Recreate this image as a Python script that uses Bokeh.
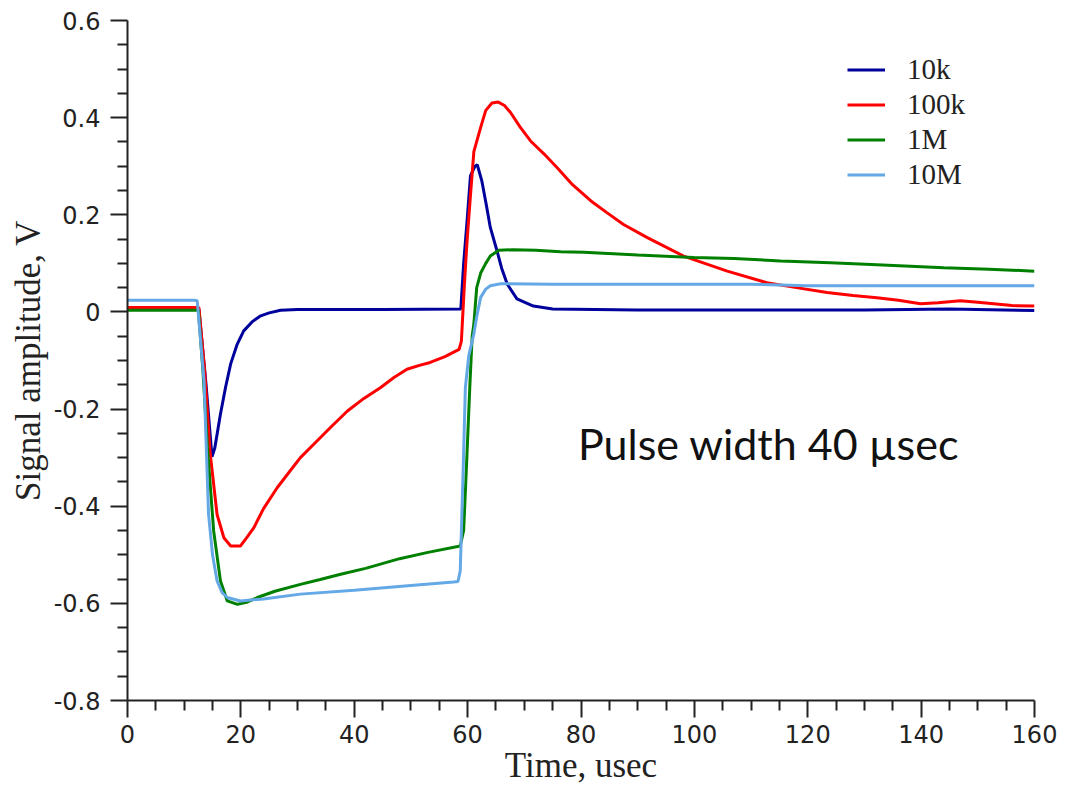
from bokeh.plotting import figure
from bokeh.models import Range1d, FixedTicker, Label
from bokeh.embed import file_html
from bokeh.resources import INLINE

# ---------------- data ----------------
series_names = ["10k", "100k", "1M", "10M"]
series_colors = ["#00009C", "#FF0000", "#008000", "#64A8E6"]

t_10k = [0, 12.6, 13.8, 14.9, 15.4, 16.4, 17.3, 18.2, 19.3, 20.5, 22, 23.5, 25, 27, 30,
         45, 58.8, 59.3, 59.9, 60.5, 61.3, 61.7, 62.5, 63.3, 64.0, 65.2, 66.0, 67.0,
         68.7, 71.6, 75, 90, 110, 130, 145, 160]
v_10k = [0.005, 0.005, -0.142, -0.298, -0.28, -0.21, -0.155, -0.107, -0.068, -0.039,
         -0.02, -0.008, -0.002, 0.0035, 0.005, 0.005, 0.006, 0.1, 0.187, 0.28, 0.30,
         0.303, 0.27, 0.22, 0.174, 0.125, 0.09, 0.057, 0.027, 0.012, 0.006, 0.004,
         0.004, 0.004, 0.006, 0.003]

t_100k = [0, 12.6, 13.6, 14.6, 15.8, 17.0, 18.2, 19.9, 21, 22.3, 24, 26.4, 28.5, 30.5,
          32.9, 35.8, 38.8, 41.7, 44.6, 47, 49.3, 51.5, 53.4, 56, 58.5, 58.9, 59.4,
          59.9, 60.5, 61.1, 62.3, 63.2, 64.3, 65.4, 66.5, 67.6, 69.3, 71.1, 73.5, 75.8,
          78.5, 81.7, 84.5, 87.5, 91.7, 98.1, 105.8, 112.8, 118, 123.4, 128, 132.2, 136,
          139.9, 143, 146.9, 150, 152.8, 156, 160]
v_100k = [0.009, 0.009, -0.12, -0.293, -0.417, -0.465, -0.482, -0.482, -0.465, -0.444,
          -0.405, -0.362, -0.33, -0.30, -0.272, -0.238, -0.204, -0.178, -0.156, -0.135,
          -0.118, -0.11, -0.104, -0.092, -0.077, -0.06, 0.05, 0.146, 0.24, 0.33, 0.38,
          0.415, 0.43, 0.432, 0.425, 0.41, 0.38, 0.352, 0.325, 0.297, 0.262, 0.229,
          0.205, 0.18, 0.153, 0.115, 0.084, 0.060, 0.05, 0.040, 0.034, 0.029, 0.024,
          0.017, 0.019, 0.023, 0.02, 0.017, 0.013, 0.012]

t_1M = [0, 12.5, 13.3, 14.1, 15.2, 16.4, 17.6, 19.4, 21, 22.9, 26, 30.5, 34, 37.6, 42,
        48, 53, 58.7, 59.3, 59.9, 60.4, 60.8, 61.1, 61.6, 62.3, 63.2, 64, 65.5, 68, 72,
        76.4, 80.5, 90, 99.9, 107, 115.2, 124, 132.2, 144, 152, 160]
v_1M = [0.0035, 0.0035, -0.12, -0.279, -0.451, -0.554, -0.595, -0.602, -0.598, -0.588,
        -0.575, -0.561, -0.551, -0.54, -0.528, -0.508, -0.495, -0.482, -0.45, -0.29,
        -0.15, -0.05, -0.025, 0.05, 0.08, 0.10, 0.115, 0.127, 0.128, 0.127, 0.124, 0.123,
        0.117, 0.112, 0.11, 0.105, 0.101, 0.097, 0.091, 0.088, 0.084]

t_10M = [0, 11.8, 12.3, 13.5, 14.3, 15.0, 15.8, 16.7, 17.6, 19.9, 24, 30.5, 40, 50, 57.5,
         58.3, 58.7, 59.2, 59.6, 60.2, 60.8, 61.1, 61.6, 62.3, 63.2, 64, 65.8, 75, 90,
         110, 120, 140, 160]
v_10M = [0.024, 0.024, 0.023, -0.142, -0.417, -0.5, -0.554, -0.578, -0.588, -0.595,
         -0.591, -0.581, -0.573, -0.563, -0.556, -0.555, -0.533, -0.33, -0.156, -0.09,
         -0.06, -0.045, -0.01, 0.03, 0.047, 0.054, 0.058, 0.057, 0.057, 0.057, 0.054,
         0.054, 0.054]

x_ticks = [0, 20, 40, 60, 80, 100, 120, 140, 160]
x_tick_labels = ["0", "20", "40", "60", "80", "100", "120", "140", "160"]
x_minor_ticks = [5, 10, 15, 25, 30, 35, 45, 50, 55, 65, 70, 75, 85, 90, 95,
                 105, 110, 115, 125, 130, 135, 145, 150, 155]
y_ticks = [-0.8, -0.6, -0.4, -0.2, 0, 0.2, 0.4, 0.6]
y_tick_labels = ["-0.8", "-0.6", "-0.4", "-0.2", "0", "0.2", "0.4", "0.6"]
y_minor_ticks = [-0.75, -0.7, -0.65, -0.55, -0.5, -0.45, -0.35, -0.3, -0.25,
                 -0.15, -0.1, -0.05, 0.05, 0.1, 0.15, 0.25, 0.3, 0.35,
                 0.45, 0.5, 0.55]

x_title = "Time, usec"
y_title = "Signal amplitude, V"
note_text = "Pulse width 40 µsec"

# ---------------- figure ----------------
p = figure(width=1081, height=790, x_range=Range1d(0, 160), y_range=Range1d(-0.8, 0.6),
           output_backend="svg", toolbar_location=None,
           min_border_left=127, min_border_right=47, min_border_top=20,
           min_border_bottom=90)
p.xgrid.visible = False
p.ygrid.visible = False
p.outline_line_color = None
p.background_fill_color = "white"
p.border_fill_color = "white"

for ax in (p.xaxis[0], p.yaxis[0]):
    ax.axis_line_color = "#222222"
    ax.axis_line_width = 2
    ax.major_tick_line_color = "#222222"
    ax.major_tick_line_width = 2
    ax.minor_tick_line_color = "#222222"
    ax.minor_tick_line_width = 2
    ax.major_tick_in = 0
    ax.major_tick_out = 17
    ax.minor_tick_in = 0
    ax.minor_tick_out = 10
    ax.major_label_text_font = "DejaVu Sans"
    ax.major_label_text_font_size = "24px"
    ax.major_label_text_color = "#222222"
    ax.axis_label_text_font = "Liberation Serif"
    ax.axis_label_text_font_size = "35px"
    ax.axis_label_text_font_style = "normal"
    ax.axis_label_text_color = "#222222"

p.xaxis[0].ticker = FixedTicker(ticks=x_ticks, minor_ticks=x_minor_ticks)
p.yaxis[0].ticker = FixedTicker(ticks=y_ticks, minor_ticks=y_minor_ticks)
p.xaxis[0].major_label_overrides = {t: s for t, s in zip(x_ticks, x_tick_labels)}
p.yaxis[0].major_label_overrides = {t: s for t, s in zip(y_ticks, y_tick_labels)}
p.xaxis[0].major_label_standoff = 7
p.yaxis[0].major_label_standoff = 10
p.xaxis[0].axis_label_standoff = 0
p.yaxis[0].axis_label_standoff = 3
p.xaxis[0].axis_label = x_title
p.yaxis[0].axis_label = y_title

all_t = [t_10k, t_100k, t_1M, t_10M]
all_v = [v_10k, v_100k, v_1M, v_10M]
for name, color, t, v in zip(series_names, series_colors, all_t, all_v):
    p.line(t, v, line_color=color, line_width=3, legend_label=name)

lg = p.legend[0]
lg.location = (720, 509)
lg.border_line_alpha = 0
lg.background_fill_alpha = 0
lg.padding = 0
lg.margin = 0
lg.spacing = 2
lg.glyph_width = 38
lg.glyph_height = 31
lg.label_height = 31
lg.label_standoff = 22
lg.label_text_font = "Liberation Serif"
lg.label_text_font_size = "29px"
lg.label_text_color = "#222222"

p.add_layout(Label(x=113.1, y=-0.27, text=note_text, text_align="center",
                   text_baseline="middle", text_font="Lato", text_font_size="43px",
                   text_color="#111111"))

open("out.html", "w").write(file_html(p, INLINE))
